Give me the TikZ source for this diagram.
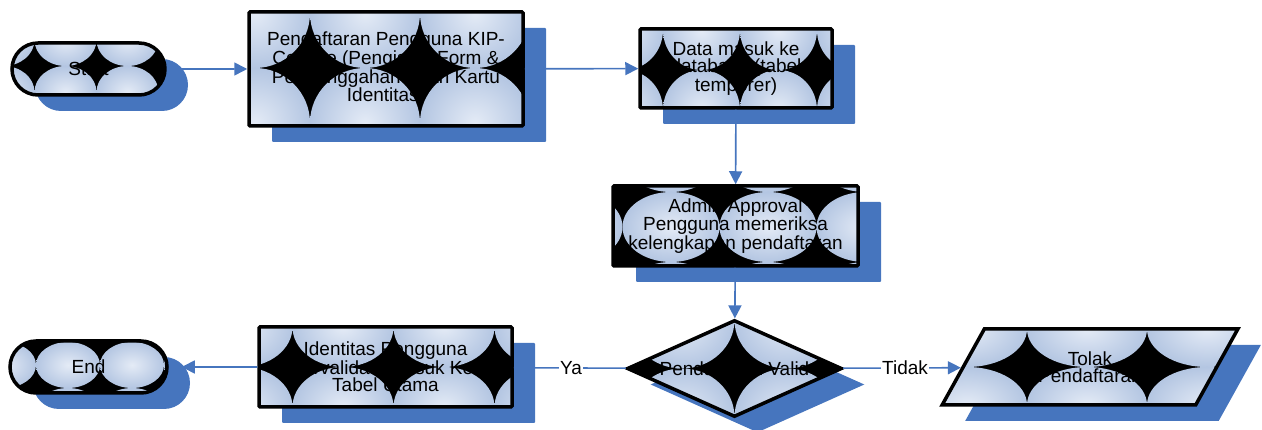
\documentclass[tikz,border=0pt]{standalone}
\usepackage{fontspec}
\setmainfont{Liberation Sans}
\usepackage{tikz}
\usetikzlibrary{calc,shapes.geometric,shapes.misc,shadows,arrows.meta}
\definecolor{flowBlue}{RGB}{70,117,190}
\definecolor{tileLight}{RGB}{228,235,246}
\definecolor{tileEdge}{RGB}{180,198,226}
\newcommand{\shadowX}{23pt}
\newcommand{\shadowY}{-16pt}
\newcommand{\flowFont}{\fontsize{19}{17.5}\selectfont}
\newcommand{\tileCols}{-3,...,3}
\newcommand{\tileRows}{-2,...,2}

\begin{document}
\begin{tikzpicture}[x=1pt, y=-1pt,
	% tiles: offset x, offset y, tile width, tile height
	tileFill/.style n args={4}{path picture={
		\fill[black] (path picture bounding box.south west) rectangle (path picture bounding box.north east);
		\foreach \i in \tileCols
			\foreach \j in \tileRows
				\shade[inner color=tileLight, outer color=tileEdge] ($(path picture bounding box.center)+({#1+\i*#3},{#2+\j*#4})$) ellipse ({#3/2} and {#4/2});
	}},
	flowShape/.style={draw=black, line width=3.5pt, inner sep=0pt, align=center, text=black, font=\flowFont,
		drop shadow={shadow xshift=\shadowX, shadow yshift=\shadowY, fill=flowBlue, opacity=1}},
	terminal/.style={flowShape, rounded rectangle},
	process/.style={flowShape, rectangle, rounded corners=1pt},
	decision/.style={flowShape, diamond},
	dataBox/.style={flowShape, trapezium, trapezium left angle=56.7, trapezium right angle=123.3, trapezium stretches=true},
	flowText/.style={font=\flowFont, text=black, inner sep=1pt},
	flowLine/.style={draw=flowBlue, line width=1.6pt},
	flowArrow/.style={flowLine, -{Triangle[length=13pt,width=13pt]}}
	]
	\useasboundingbox (0,0) rectangle (1262,430);

	% top row
	\node[terminal, minimum width=153pt, minimum height=52pt, tileFill={-23}{-29}{62}{52}] (start) at (88.5,69) {Start};
	\node[process, minimum width=274pt, minimum height=114pt, tileFill={-21}{-56}{110}{110}] (register) at (386,69)
		{Pendaftaran Pengguna KIP-\\College (Pengisian Form \&\\Pengunggahan Scan Kartu\\Identitas)};
	\node[process, minimum width=192pt, minimum height=79pt, tileFill={-34.5}{-38.5}{77}{80}] (tempData) at (736,68.5)
		{Data masuk ke\\database (tabel\\temporer)};

	% middle
	\node[process, minimum width=245pt, minimum height=80pt, tileFill={32.5}{1}{97}{70}] (approval) at (735.5,226)
		{Admin Approval\\Pengguna memeriksa\\kelengkapan pendaftaran};

	% bottom row
	\node[decision, minimum width=215pt, minimum height=97pt, tileFill={-52.5}{-48.5}{105}{97}] (valid) at (734.5,368.5) {};
	\node[flowText] (validText) at (valid.center) {Pendaftaran Valid};
	\node[dataBox, minimum width=296pt, minimum height=76pt, tileFill={-3}{-38}{120}{76}] (reject) at (1090,367)
		{Tolak\\Pendaftaran};
	\node[process, minimum width=253pt, minimum height=80pt, tileFill={-42.5}{-40}{101}{80}] (identity) at (385.5,367)
		{Identitas Pengguna\\tervalidasi Masuk Ke\\Tabel Utama};
	\node[terminal, minimum width=157pt, minimum height=52pt, tileFill={-20.5}{-2}{64}{46}] (stop) at (88.5,367) {End};

	\node[flowText] (yes) at (571,368) {Ya};
	\node[flowText] (no) at (905,368) {Tidak};

	\draw[flowArrow] (start) -- (register);
	\draw[flowArrow] (register) -- (tempData);
	\draw[flowArrow] (tempData) -- (approval);
	\draw[flowArrow] (approval) -- (valid);
	\draw[flowLine] (valid) -- (yes);
	\draw[flowLine] (yes) -- (identity);
	\draw[flowArrow, shorten >=13pt] (identity) -- (stop);
	\draw[flowLine] (valid) -- (no);
	\draw[flowArrow] (no) -- (reject);
\end{tikzpicture}
\end{document}
